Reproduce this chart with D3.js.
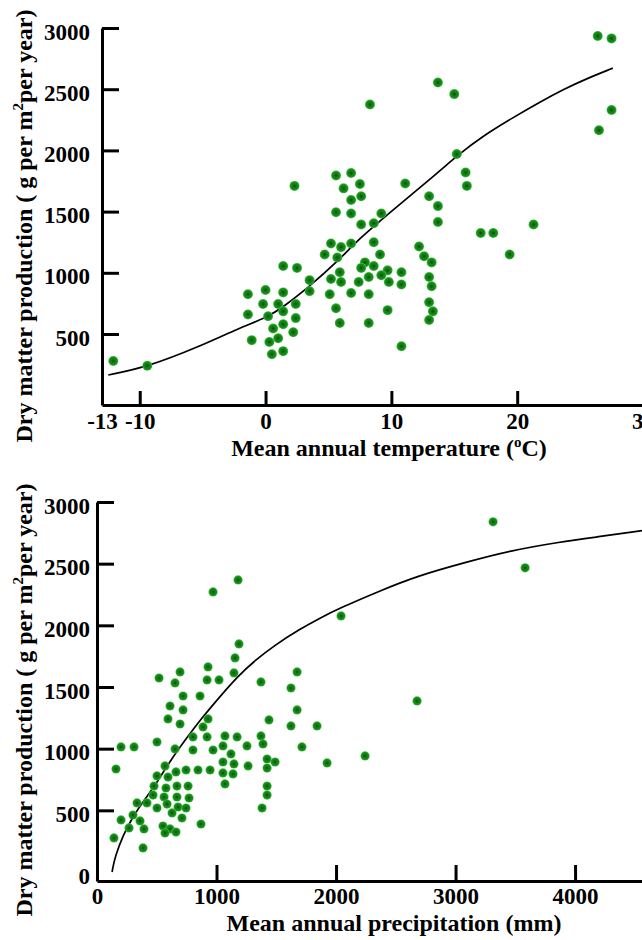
<!DOCTYPE html>
<html>
<head>
<meta charset="utf-8">
<script src="https://cdn.jsdelivr.net/npm/d3@7"></script>
<style>
  body { margin: 0; background: #fff; }
  svg { display: block; }
  text { font-family: "Liberation Serif", "Times New Roman", serif; font-weight: bold; fill: #000; }
</style>
</head>
<body>
<div id="chart"></div>
<script>
// top panel: production vs mean annual temperature
const tempT = [-12.1, -9.4,
  -1.4, -1.4, -1.1, 0, -0.2, 0.2, 0.6, 0.3, 0.5, 1.4, 1.0, 1.4, 1.4, 1.0, 1.4, 2.4, 2.4, 2.2, 1.4, 2.5, 3.5, 3.5, 2.3,
  5.6, 6.8, 6.2, 7.5, 6.8, 7.6, 5.6, 6.8, 7.6, 8.6, 9.2, 11.1, 13.0, 13.7, 13.7,
  5.2, 6.0, 6.8, 5.7, 4.7, 8.6, 9.1,
  7.9, 7.6, 8.6, 9.7, 10.8, 9.2, 5.9, 5.2, 6.0, 7.4, 8.2, 9.8, 10.8,
  5.1, 6.8, 8.2, 5.6, 9.7, 5.9, 8.2, 10.8,
  12.2, 12.6, 13.2, 13.0, 13.2, 13.0, 13.3, 13.0,
  8.3, 13.7, 15.0, 15.2, 15.9, 16.0,
  17.1, 18.1, 19.4, 21.3, 26.4, 27.5, 27.5, 26.5];
const tempNpp = [280, 240,
  825, 660, 450, 860, 745, 645, 545, 435, 335, 840, 745, 685, 580, 465, 360, 745, 630, 515, 1055, 1040, 940, 850, 1710,
  1795, 1815, 1690, 1725, 1595, 1625, 1495, 1485, 1395, 1405, 1485, 1730, 1625, 1545, 1415,
  1240, 1210, 1240, 1125, 1150, 1250, 1150,
  1085, 1040, 1055, 1020, 1005, 980, 1005, 950, 925, 925, 965, 925, 905,
  825, 835, 825, 710, 695, 590, 590, 400,
  1215, 1135, 1085, 965, 890, 760, 685, 615,
  2375, 2555, 2460, 1970, 1820, 1710,
  1325, 1325, 1150, 1395, 2935, 2915, 2330, 2165];
const tempFitT = [-12.5, -9.4, -5.2, -2.5, 0.2, 1.4, 3.5, 5.6, 7.5, 10.1, 12.7, 14.1, 15.2, 17.3, 19.7, 21.8, 23.7, 25.6, 27.6];
const tempFitNpp = [165, 230, 400, 530, 640, 720, 890, 1080, 1285, 1511, 1732, 1855, 1955, 2120, 2270, 2395, 2500, 2590, 2672];
const tempTicks = [-13, -10, 0, 10, 20, 30];
const tempNppTicks = [500, 1000, 1500, 2000, 2500, 3000];

// bottom panel: production vs mean annual precipitation
const precP = [519, 695, 653, 929, 921, 1021, 720, 862, 611, 720, 594, 695, 929, 887, 803, 921,
  201, 310, 502, 653, 803, 971, 159, 569, 661, 745, 845, 946, 502, 594, 477, 577, 669, 762,
  469, 561, 669, 770, 335, 418, 586, 502, 678, 745, 201, 301, 360, 628, 711, 268, 393, 552, 611, 870,
  569, 661, 142, 385,
  1188, 1155, 1146, 1372, 1674, 1623, 1674, 1439, 1623, 1841, 1071, 1172, 1054, 1255, 1372, 1389,
  1121, 1054, 1146, 1264, 1423, 1490, 1423, 1054, 1138, 1071, 1423, 1423, 1381, 1715, 1925,
  971, 1180, 3314, 3582, 2042, 2678, 2243];
const precNpp = [1573, 1622, 1533, 1663, 1557, 1557, 1427, 1427, 1346, 1314, 1241, 1200, 1241, 1176, 1095, 1095,
  1014, 1014, 1054, 998, 989, 989, 835, 860, 811, 827, 827, 827, 779, 770, 697, 681, 697, 697,
  624, 608, 608, 600, 560, 560, 551, 519, 527, 519, 422, 462, 414, 479, 438, 357, 349, 373, 349, 389,
  316, 324, 276, 195,
  1849, 1736, 1614, 1541, 1622, 1492, 1314, 1233, 1184, 1184, 1103, 1095, 1022, 1022, 1103, 1038,
  957, 892, 876, 860, 916, 892, 843, 803, 795, 714, 697, 624, 519, 1014, 884,
  2271, 2368, 2839, 2466, 2076, 1387, 941];
const precFitP = [126, 134, 151, 218, 301, 400, 485, 611, 753, 862, 1004, 1180, 1322, 1490, 1699, 1866, 2033, 2368, 2678, 3096, 3456, 3874, 4209, 4560];
const precFitNpp = [0, 41, 122, 300, 450, 590, 700, 900, 1090, 1230, 1395, 1590, 1715, 1841, 1970, 2060, 2140, 2280, 2400, 2514, 2605, 2676, 2720, 2768];
const precTicks = [0, 1000, 2000, 3000, 4000];
const precNppTicks = [0, 500, 1000, 1500, 2000, 2500, 3000];

const svg = d3.select("#chart")
  .append("svg")
  .attr("width", 642)
  .attr("height", 940);

const grad = svg.append("defs")
  .append("radialGradient")
  .attr("id", "ball");
grad.append("stop").attr("offset", "0%").attr("stop-color", "#0b3f0b");
grad.append("stop").attr("offset", "35%").attr("stop-color", "#0f7a12");
grad.append("stop").attr("offset", "75%").attr("stop-color", "#1a8c1c");
grad.append("stop").attr("offset", "100%").attr("stop-color", "#48c84a");

const drawPanel = p => {
  const g = svg.append("g");

  const yAxis = d3.axisLeft(p.y)
    .tickValues(p.yTicks)
    .tickFormat(d => String(d))
    .tickSizeInner(-17)
    .tickSizeOuter(0)
    .tickPadding(p.yPad);
  const gy = g.append("g")
    .attr("transform", `translate(${p.x.range()[0]},0)`)
    .call(yAxis);

  const xAxis = d3.axisBottom(p.x)
    .tickValues(p.xTicks)
    .tickFormat(d => String(d))
    .tickSizeInner(-p.xTickLen)
    .tickSizeOuter(0)
    .tickPadding(p.xPad);
  const gx = g.append("g")
    .attr("transform", `translate(0,${p.y.range()[0]})`)
    .call(xAxis);

  [gx, gy].forEach(a => {
    a.select(".domain").attr("stroke", "#000").attr("stroke-width", 3);
    a.selectAll(".tick line").attr("stroke", "#000").attr("stroke-width", 3);
    a.selectAll(".tick text")
      .style("font-family", "'Liberation Serif', serif")
      .style("font-weight", "bold")
      .style("font-size", "23px")
      .attr("fill", "#000");
  });
  gy.selectAll(".tick text").attr("dy", "0.48em");
  gy.selectAll(".tick").filter(d => d === 0).select("line").remove();

  const line = d3.line()
    .x(d => p.x(d[0]))
    .y(d => p.y(d[1]))
    .curve(d3.curveBasis);
  g.append("path")
    .datum(p.fitX.map((v, i) => [v, p.fitY[i]]))
    .attr("d", line)
    .attr("fill", "none")
    .attr("stroke", "#000")
    .attr("stroke-width", 1.7);

  g.selectAll("circle")
    .data(p.ptX.map((v, i) => [v, p.ptY[i]]))
    .join("circle")
    .attr("cx", d => p.x(d[0]))
    .attr("cy", d => p.y(d[1]))
    .attr("r", p.r)
    .attr("fill", "url(#ball)");

  const xl = g.append("text")
    .attr("x", p.xLabelX)
    .attr("y", p.xLabelY)
    .attr("text-anchor", "middle")
    .style("font-size", "24px");
  p.xLabel(xl);

  const yl = g.append("text")
    .attr("transform", `translate(32,${p.yLabelY}) rotate(-90)`)
    .attr("text-anchor", "middle")
    .style("font-size", "24px");
  yl.append("tspan").text("Dry matter production ( g per m");
  yl.append("tspan").attr("dy", -9).style("font-size", "15px").text("2");
  yl.append("tspan").attr("dy", 9).text("per year)");
};

drawPanel({
  x: d3.scaleLinear().domain([-13, 30]).range([102, 643]),
  y: d3.scaleLinear().domain([-80, 3000]).range([405, 28]),
  xTicks: tempTicks, yTicks: tempNppTicks,
  xTickLen: 14, xPad: 8, yPad: 12,
  ptX: tempT, ptY: tempNpp, r: 5,
  fitX: tempFitT, fitY: tempFitNpp,
  xLabelX: 389, xLabelY: 456, yLabelY: 226,
  xLabel: t => {
    t.append("tspan").text("Mean annual temperature (");
    t.append("tspan").attr("dy", -9).style("font-size", "15px").text("o");
    t.append("tspan").attr("dy", 9).text("C)");
  }
});

drawPanel({
  x: d3.scaleLinear().domain([0, 4560]).range([97, 642]),
  y: d3.scaleLinear().domain([-73, 3000]).range([881, 502]),
  xTicks: precTicks, yTicks: precNppTicks,
  xTickLen: 16, xPad: 7, yPad: 7,
  ptX: precP, ptY: precNpp, r: 4.6,
  fitX: precFitP, fitY: precFitNpp,
  xLabelX: 394, xLabelY: 931, yLabelY: 700,
  xLabel: t => {
    t.append("tspan").text("Mean annual precipitation (mm)");
  }
});
</script>
</body>
</html>
